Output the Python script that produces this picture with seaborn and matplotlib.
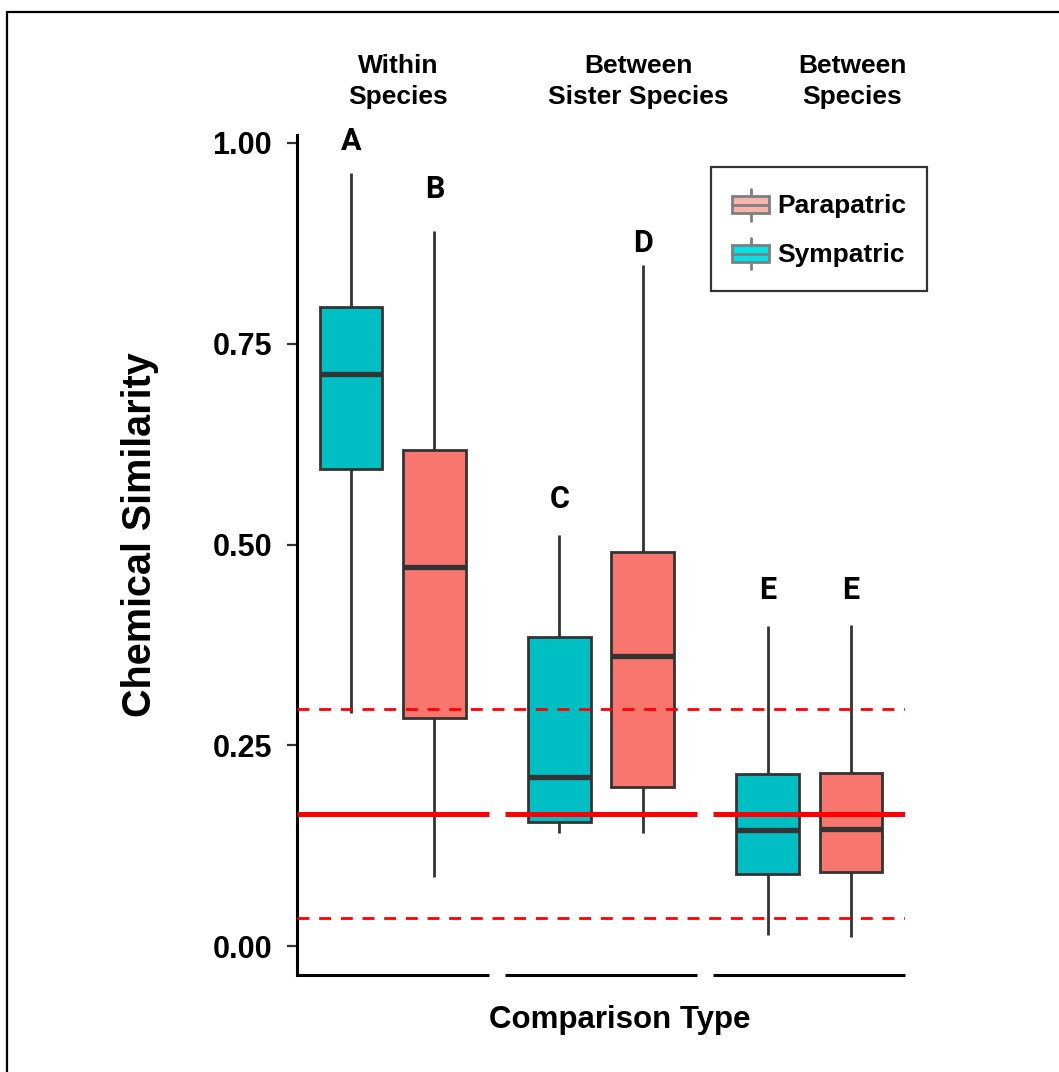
import numpy as np
import pandas as pd
import seaborn as sns
import matplotlib.pyplot as plt
from matplotlib.legend_handler import HandlerBase
from matplotlib.patches import Rectangle, Patch
from matplotlib.lines import Line2D

# five-number summaries: [min, q1, median, q3, max]
categories = ["Within Species", "Between Sister Species", "Between Species"]
group_labels = ["Within\nSpecies", "Between\nSister Species", "Between\nSpecies"]
group_label_x = [0.025, 1.178, 2.206]
sym_stats = [[0.290, 0.594, 0.712, 0.796, 0.963],
             [0.141, 0.154, 0.210, 0.385, 0.512],
             [0.014, 0.090, 0.144, 0.214, 0.398]]
para_stats = [[0.086, 0.284, 0.472, 0.618, 0.890],
              [0.141, 0.198, 0.361, 0.491, 0.848],
              [0.011, 0.092, 0.146, 0.215, 0.400]]
sym_letters = ["A", "C", "E"]
sym_letter_y = [1.002, 0.557, 0.444]
para_letters = ["B", "D", "E"]
para_letter_y = [0.943, 0.875, 0.444]
mean_line = 0.164
ci_lines = [0.295, 0.035]
yticks = [0.0, 0.25, 0.50, 0.75, 1.00]

rows = []
for i, cat in enumerate(categories):
    for v in sym_stats[i]:
        rows.append((cat, "Sympatric", v))
    for v in para_stats[i]:
        rows.append((cat, "Parapatric", v))
df = pd.DataFrame(rows, columns=["comparison", "range", "similarity"])

sns.set_theme(style="white")
plt.rcParams['font.family'] = ['Liberation Sans', 'DejaVu Sans']
plt.rcParams['text.color'] = 'black'
plt.rcParams['axes.labelcolor'] = 'black'
plt.rcParams['ytick.color'] = 'black'


class HandlerBox(HandlerBase):
    # small boxplot glyph for the legend
    def create_artists(self, legend, orig_handle, xdescent, ydescent,
                       width, height, fontsize, trans):
        x0, y0 = -xdescent, -ydescent
        xm = x0 + width / 2
        ec = orig_handle.get_edgecolor()
        whisk = Line2D([xm, xm], [y0 + 0.02 * height, y0 + 0.98 * height],
                       color=ec, lw=2, transform=trans)
        box = Rectangle((x0, y0 + 0.25 * height), width, 0.5 * height,
                        facecolor=orig_handle.get_facecolor(), edgecolor=ec,
                        lw=2, transform=trans)
        med = Line2D([x0, x0 + width], [y0 + 0.5 * height] * 2,
                     color=ec, lw=2, transform=trans)
        return [whisk, box, med]


fig = plt.figure(figsize=(10.59, 10.72), dpi=100)
ax = fig.add_axes([0.2805, 0.0905, 0.5741, 0.7836])

sns.boxplot(data=df, x="comparison", y="similarity", hue="range",
            order=categories, hue_order=["Sympatric", "Parapatric"],
            palette={"Sympatric": "#00BFC4", "Parapatric": "#F8766D"},
            whis=(0, 100), width=0.8, gap=0.25, saturation=1,
            linecolor="#333333", linewidth=2, showcaps=False,
            medianprops={"linewidth": 3.8}, legend=False, ax=ax)

# reference lines
for yv in ci_lines:
    ax.axhline(yv, color="red", lw=2, ls=(0, (4.3, 3.5)), zorder=5)
for i in range(len(categories)):
    ax.hlines(mean_line, i - 0.46, i + 0.46, color="red", lw=3.6, zorder=5)

# significance letters
letter_font = ["Roboto", "DejaVu Sans"]
for i in range(len(categories)):
    ax.text(i - 0.2, sym_letter_y[i], sym_letters[i], ha="center", va="center",
            fontsize=22, fontweight="bold", family=letter_font)
    ax.text(i + 0.2, para_letter_y[i], para_letters[i], ha="center", va="center",
            fontsize=22, fontweight="bold", family=letter_font)

# group labels on top
for xg, lab in zip(group_label_x, group_labels):
    ax.text(xg, 1.064, lab, transform=ax.get_xaxis_transform(), ha="center",
            va="center", fontsize=19, fontweight="bold", linespacing=1.35)

ax.set_xlim(-0.46, 2.46)
ax.set_ylim(-0.036, 1.01)
ax.set_yticks(yticks)
ax.set_yticklabels([f"{t:.2f}" for t in yticks], fontsize=22, fontweight="bold")
ax.set_xticks([])
ax.tick_params(axis="y", direction="out", length=7, width=1.6, color="#333333",
               labelcolor="black", pad=11, left=True)

for s in ["top", "right", "bottom"]:
    ax.spines[s].set_visible(False)
ax.spines["left"].set_linewidth(2.2)
ax.spines["left"].set_color("black")
for i in range(len(categories)):
    ax.hlines(0, i - 0.46, i + 0.46, transform=ax.get_xaxis_transform(),
              color="black", lw=2.2, clip_on=False)

ax.set_xlabel("Comparison Type", fontsize=22.5, fontweight="bold")
ax.xaxis.label.set_va("center")
ax.xaxis.set_label_coords(0.531, -0.054)
ax.set_ylabel("Chemical Similarity", fontsize=28.5, fontweight="bold")
ax.yaxis.label.set_va("center")
ax.yaxis.set_label_coords(-0.258, 0.524)

handles = [Patch(facecolor="#F9B3AD", edgecolor="#7F7F7F"),
           Patch(facecolor="#00E3E6", edgecolor="#7F7F7F")]
leg = ax.legend(handles, ["Parapatric", "Sympatric"],
                handler_map={Patch: HandlerBox()}, loc="upper left",
                bbox_to_anchor=(711 / 1059, 1 - 167 / 1072),
                bbox_transform=fig.transFigure, frameon=True, fancybox=False,
                edgecolor="black", prop={"weight": "bold", "size": 19},
                handlelength=1.4, handleheight=1.55, borderpad=0.8,
                labelspacing=0.6, handletextpad=0.3, borderaxespad=0)
leg.get_frame().set_linewidth(1.6)

# outer frame (top and left edges)
fig.add_artist(Line2D([0.0066, 0.0066], [0, 0.9888], transform=fig.transFigure,
                      color="black", lw=1.6))
fig.add_artist(Line2D([0.0066, 1], [0.9888, 0.9888], transform=fig.transFigure,
                      color="black", lw=1.6))

fig.savefig("out.png", dpi=100)
